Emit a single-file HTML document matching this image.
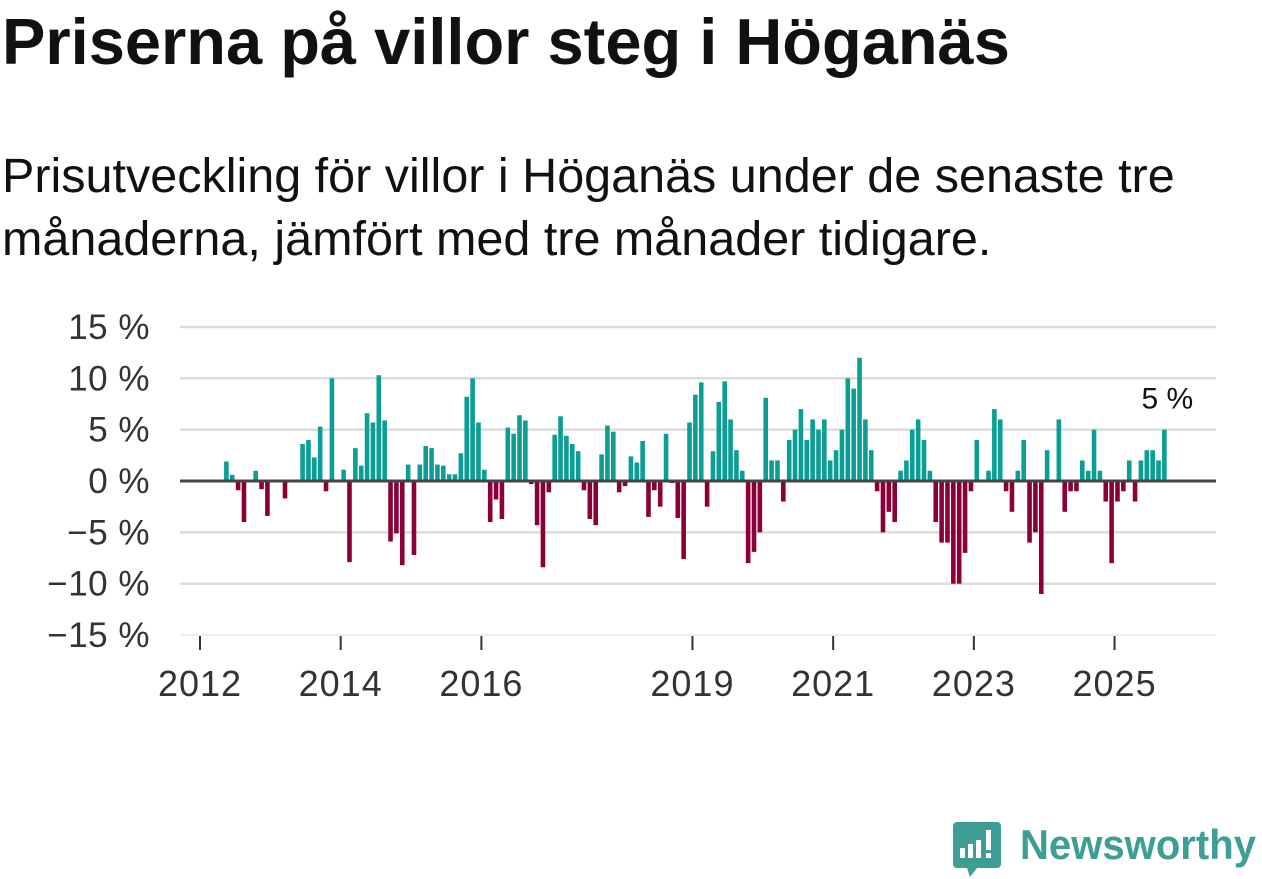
<!DOCTYPE html>
<html><head><meta charset="utf-8">
<style>
body{margin:0;width:1262px;height:879px;background:#fff;overflow:hidden;font-family:"Liberation Sans","DejaVu Sans",sans-serif;}
#title{position:absolute;left:2px;top:4px;font-size:65px;font-weight:bold;color:#111;margin:0;white-space:nowrap;}
#sub{position:absolute;left:2px;top:145px;font-size:48.5px;line-height:63px;color:#111;width:1260px;white-space:nowrap;}
svg{position:absolute;left:0;top:0;}
</style></head><body>
<h1 id="title">Priserna på villor steg i Höganäs</h1>
<div id="sub">Prisutveckling för villor i Höganäs under de senaste tre<br>månaderna, jämfört med tre månader tidigare.</div>
<svg id="chart" width="1262" height="879"></svg>
<svg width="1262" height="879">
<path d="M957 822 h40 a4 4 0 0 1 4 4 v38 a4 4 0 0 1 -4 4 h-20 l-7 9 l-3 -9 h-10 a4 4 0 0 1 -4 -4 v-38 a4 4 0 0 1 4 -4z" fill="#3f9e94"/>
<rect x="960" y="848" width="5" height="10" fill="#fff"/><rect x="968" y="844" width="5" height="14" fill="#fff"/><rect x="976" y="840" width="5" height="18" fill="#fff"/><rect x="986" y="830" width="5" height="20" fill="#fff"/><rect x="986" y="853" width="5" height="5" fill="#fff"/>
<text x="1020" y="859" font-size="42" font-weight="bold" fill="#3f9e94" textLength="236" lengthAdjust="spacingAndGlyphs" font-family="Liberation Sans, sans-serif">Newsworthy</text>
</svg>
<script>
const startMonth = 4; // May 2012
const values = [1.9,0.6,-0.9,-4.0,0,1.0,-0.8,-3.4,0,0,-1.7,0,0,3.6,4.0,2.3,5.3,-1.0,10.0,0,1.1,-7.9,3.2,1.5,6.6,5.7,10.3,5.9,-5.9,-5.1,-8.2,1.6,-7.2,1.6,3.4,3.2,1.6,1.5,0.65,0.65,2.7,8.2,10.0,5.7,1.1,-4.0,-1.8,-3.7,5.2,4.6,6.4,5.9,-0.3,-4.3,-8.4,-1.1,4.5,6.3,4.4,3.6,2.9,-0.9,-3.7,-4.3,2.6,5.4,4.8,-1.1,-0.5,2.4,1.8,3.9,-3.5,-0.9,-2.5,4.6,-0.2,-3.6,-7.6,5.7,8.4,9.6,-2.5,2.9,7.7,9.7,6.0,3.0,1.0,-8.0,-6.9,-5.0,8.1,2.0,2.0,-2.0,4.0,5.0,7.0,4.0,6.0,5.0,6.0,2.0,3.0,5.0,10.0,9.0,12.0,6.0,3.0,-1.0,-5.0,-3.0,-4.0,1.0,2.0,5.0,6.0,4.0,1.0,-4.0,-6.0,-6.0,-10.0,-10.0,-7.0,-1.0,4.0,0,1.0,7.0,6.0,-1.0,-3.0,1.0,4.0,-6.0,-5.0,-11.0,3.0,0,6.0,-3.0,-1.0,-1.0,2.0,1.0,5.0,1.0,-2.0,-8.0,-2.0,-1.0,2.0,-2.0,2.0,3.0,3.0,2.0,5.0];
const yTicks = [15,10,5,0,-5,-10,-15];
const yTickLabels = ["15 %","10 %","5 %","0 %","\u22125 %","\u221210 %","\u221215 %"];
const xYears = [2012,2014,2016,2019,2021,2023,2025];
const lastLabel = "5 %";
const NS="http://www.w3.org/2000/svg";
const svg=document.getElementById('chart');
const x0=200, pxYear=70.35, yZero=481, pxPct=10.27, left=180, right=1216;
const xm = m => x0 + m*pxYear/12;
const y = v => yZero - v*pxPct;
function mk(tag,attrs){const e=document.createElementNS(NS,tag);for(const k in attrs)e.setAttribute(k,attrs[k]);svg.appendChild(e);return e;}
yTicks.forEach((t,i)=>{
  if(t!==0){const g=mk('line',{x1:left,x2:right,y1:y(t),y2:y(t),stroke:t===-15?'#e6e6e6':'#dcdcdc','stroke-width':t===-15?1.5:2.5});
  
  }
  const tx=mk('text',{x:150,y:y(t)+12,'text-anchor':'end','font-size':35,'letter-spacing':0.5,fill:'#333'});
  tx.textContent=yTickLabels[i];
  
  
});
const bw=4.6;
values.forEach((v,i)=>{
  if(v===0)return;
  const m=startMonth+i, cx=xm(m+0.5);
  const r=mk('rect',{x:cx-bw/2,y:Math.min(y(v),yZero),width:bw,height:Math.abs(v)*pxPct,fill:v>0?'#0a9e94':'#8c0039'});
  
  
});
const z=mk('line',{x1:left,x2:right,y1:yZero,y2:yZero,stroke:'#444','stroke-width':3});


xYears.forEach(yr=>{
  const xx=xm((yr-2012)*12);
  const tk=mk('line',{x1:xx,x2:xx,y1:636,y2:650,stroke:'#333','stroke-width':2});
  
  
  const t=mk('text',{x:xx,y:696,'text-anchor':'middle','font-size':36,'letter-spacing':1,fill:'#333'});
  t.textContent=yr;
  
  
});
const li=values.length-1;
const lt=mk('text',{x:xm(startMonth+li+0.5)+3,y:y(values[li])-21,'text-anchor':'middle','font-size':30,fill:'#111'});
lt.textContent=lastLabel;


</script>
</body></html>
